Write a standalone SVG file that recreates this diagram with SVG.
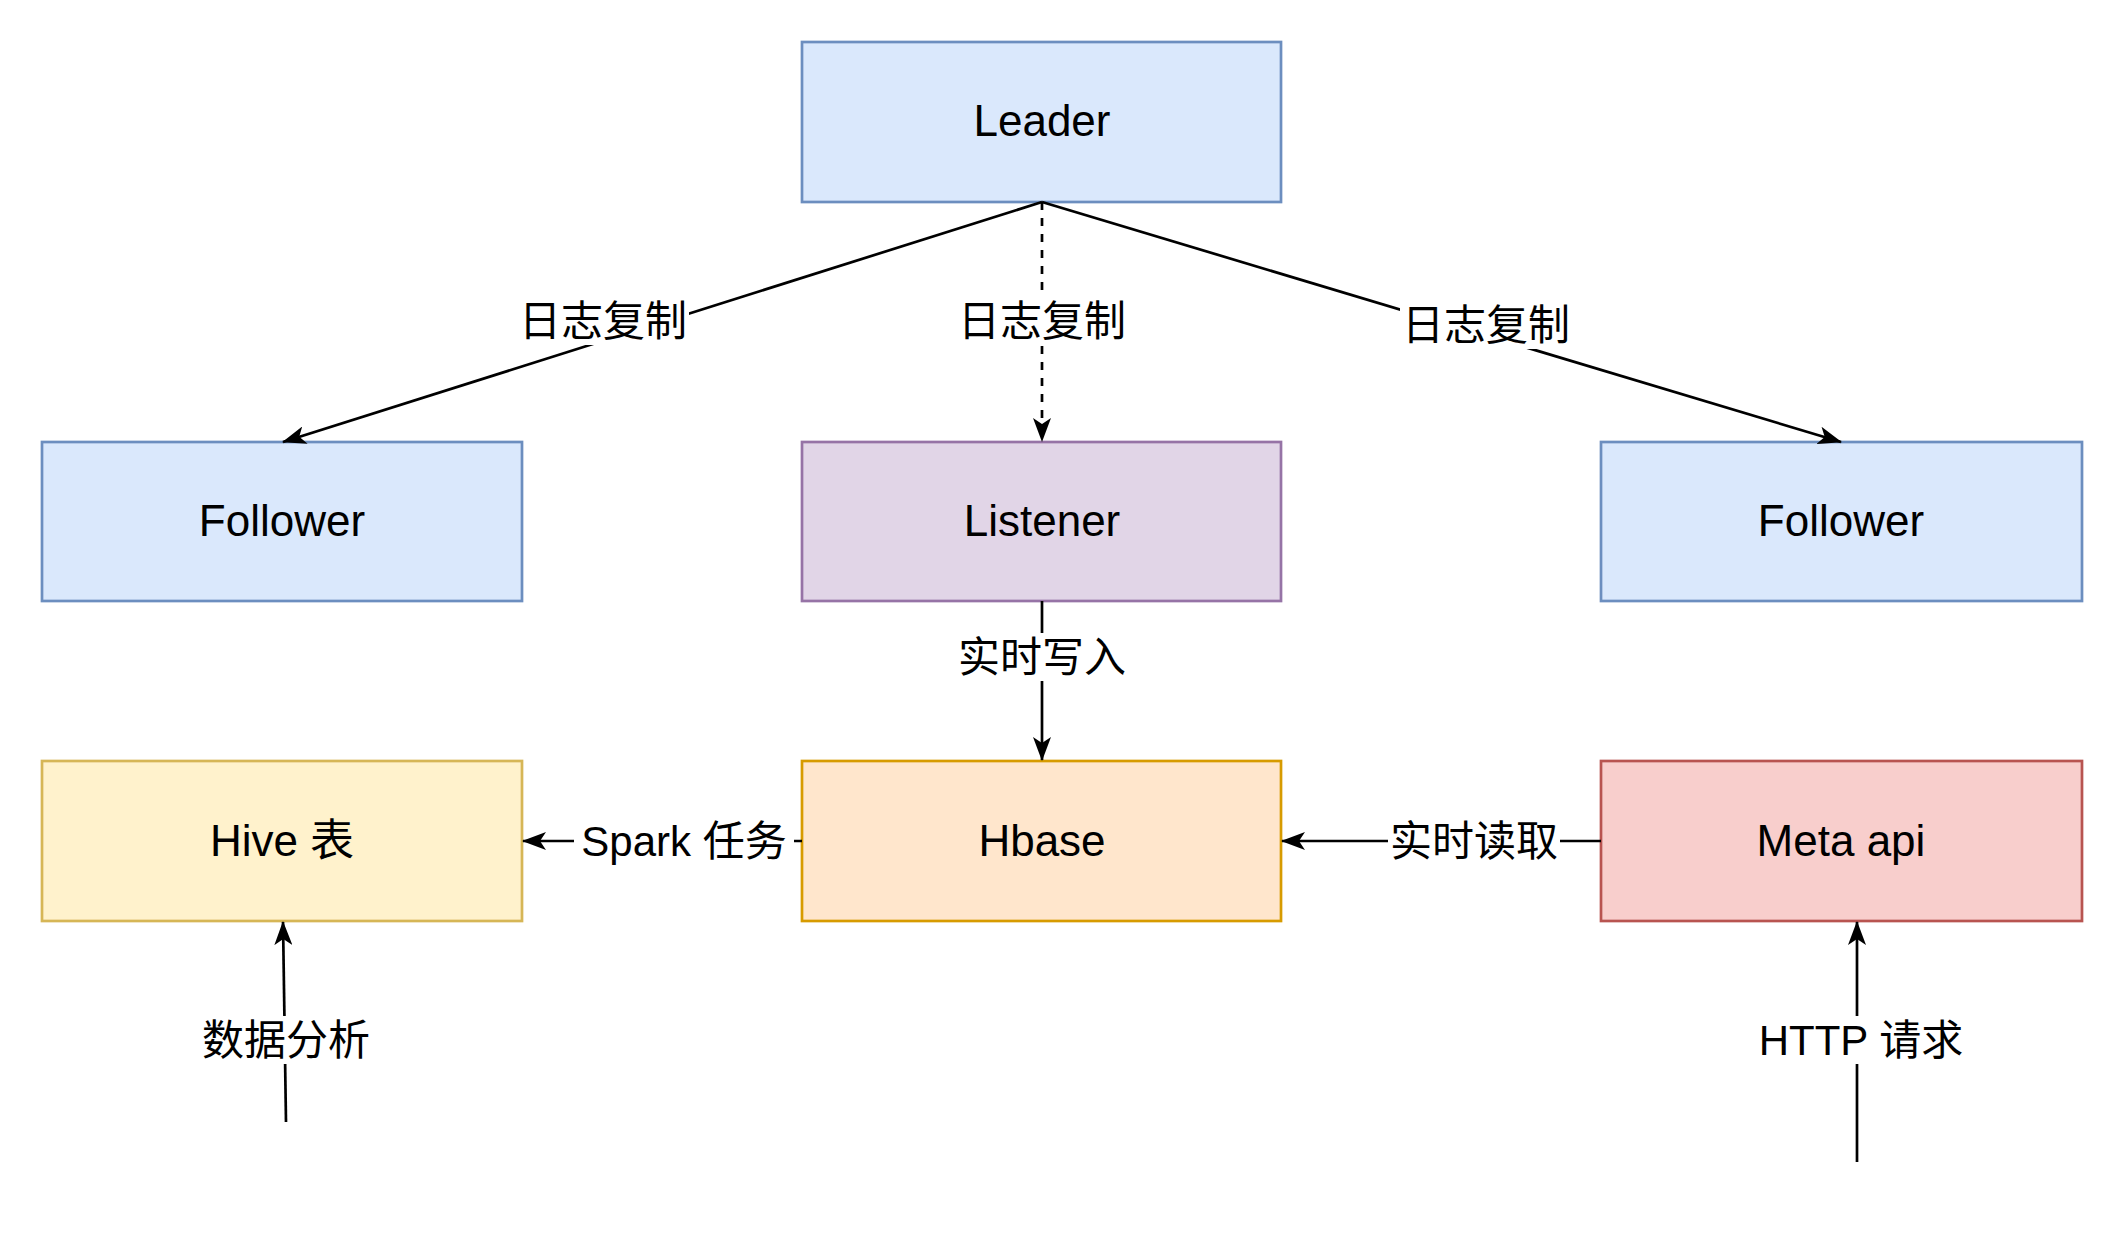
<svg xmlns="http://www.w3.org/2000/svg" width="2124" height="1236" viewBox="0 0 2124 1236">
<style>
.box{stroke-width:2.7}
.t{font-family:"Liberation Sans","Noto Sans CJK SC",sans-serif;font-size:44px;text-anchor:middle;dominant-baseline:central;fill:#000}
.l{font-family:"Liberation Sans","Noto Sans CJK SC",sans-serif;font-size:42px;text-anchor:middle;dominant-baseline:central;fill:#000}
.c{stroke:#000;stroke-width:2.7;fill:none;marker-end:url(#a)}
.bg{fill:#fff}
</style>
<defs>
<marker id="a" viewBox="0 0 24 18" refX="23" refY="9" markerWidth="24" markerHeight="18" orient="auto" markerUnits="userSpaceOnUse">
<path d="M0,0 L24,9 L0,18 L6,9 Z" fill="#000"/>
</marker>
</defs>
<rect width="2124" height="1236" fill="#fff"/>
<g id="leader"><rect class="box" x="802" y="42" width="479" height="160" fill="#dae8fc" stroke="#6c8ebf"/><text class="t" x="1042" y="120">Leader</text></g>
<g id="follower1"><rect class="box" x="42" y="442" width="480" height="159" fill="#dae8fc" stroke="#6c8ebf"/><text class="t" x="282" y="520">Follower</text></g>
<g id="listener"><rect class="box" x="802" y="442" width="479" height="159" fill="#e1d5e7" stroke="#9673a6"/><text class="t" x="1042" y="520">Listener</text></g>
<g id="follower2"><rect class="box" x="1601" y="442" width="481" height="159" fill="#dae8fc" stroke="#6c8ebf"/><text class="t" x="1841" y="520">Follower</text></g>
<g id="hive"><rect class="box" x="42" y="761" width="480" height="160" fill="#fff2cc" stroke="#d6b656"/><text class="t" x="282" y="840">Hive 表</text></g>
<g id="hbase"><rect class="box" x="802" y="761" width="479" height="160" fill="#ffe6cc" stroke="#d79b00"/><text class="t" x="1042" y="840">Hbase</text></g>
<g id="meta"><rect class="box" x="1601" y="761" width="481" height="160" fill="#f8cecc" stroke="#b85450"/><text class="t" x="1841" y="840">Meta api</text></g>
<g id="connectors">
<path class="c" d="M1042,202 L283,442"/>
<path class="c" d="M1042,202 L1042,441" stroke-dasharray="8 8"/>
<path class="c" d="M1042,202 L1841,442"/>
<path class="c" d="M1042,601 L1042,760"/>
<path class="c" d="M802,841 L523,841"/>
<path class="c" d="M1601,841 L1282,841"/>
<path class="c" d="M286,1122 L283,922"/>
<path class="c" d="M1857,1162 L1857,922"/>
<rect class="bg" x="517" y="297" width="172" height="48"/><text class="l" x="603" y="321">日志复制</text>
<rect class="bg" x="956" y="297" width="172" height="48"/><text class="l" x="1042" y="321">日志复制</text>
<rect class="bg" x="1400" y="301" width="172" height="48"/><text class="l" x="1486" y="325">日志复制</text>
<rect class="bg" x="956" y="633" width="172" height="48"/><text class="l" x="1042" y="657">实时写入</text>
<rect class="bg" x="574" y="817" width="220" height="48"/><text class="l" x="684" y="841">Spark 任务</text>
<rect class="bg" x="1388" y="817" width="172" height="48"/><text class="l" x="1474" y="841">实时读取</text>
<rect class="bg" x="200" y="1016" width="172" height="48"/><text class="l" x="286" y="1040">数据分析</text>
<rect class="bg" x="1755" y="1016" width="212" height="48"/><text class="l" x="1861" y="1040">HTTP 请求</text>
</g>
</svg>
